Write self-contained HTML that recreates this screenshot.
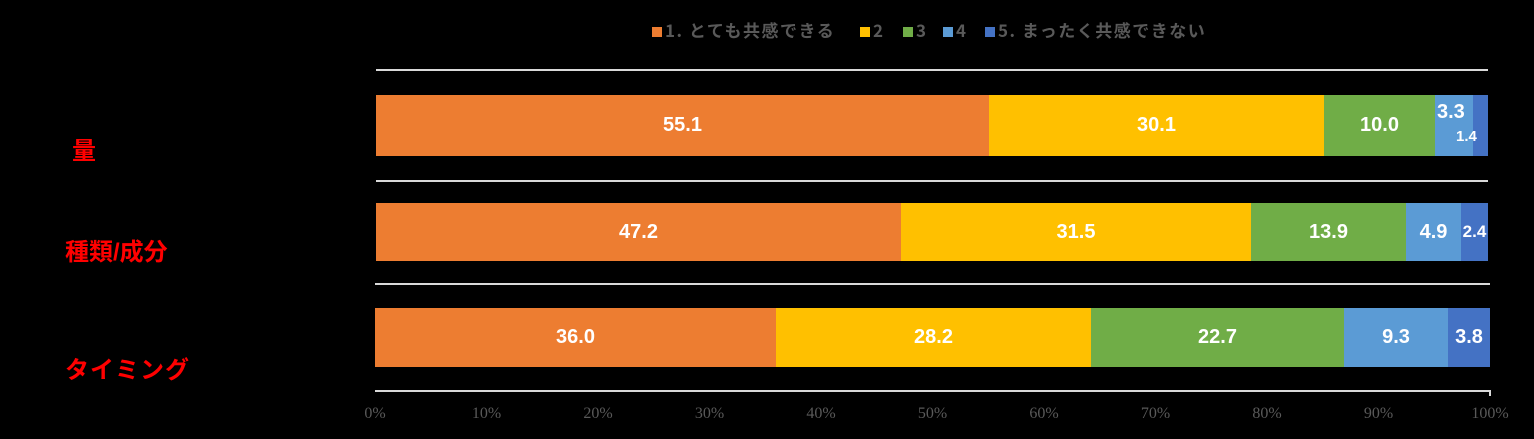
<!DOCTYPE html><html><head><meta charset="utf-8"><style>
body{margin:0;background:#000;width:1534px;height:439px;position:relative;overflow:hidden;font-family:"Liberation Sans","Noto Sans CJK JP",sans-serif}
.a{position:absolute}
.s{position:absolute;color:#fff;font-weight:bold;font-size:20px;display:flex;align-items:center;justify-content:center}
.l{position:absolute;color:#f00;font-weight:bold;font-size:24px;white-space:nowrap}
.hl{position:absolute;height:2px;background:#d9d9d9}
.t{position:absolute;top:405px;color:#595959;font-family:"Liberation Serif",serif;font-size:16px;width:70px;margin-left:-35px;text-align:center}
.lg{position:absolute;top:19px;height:22px;line-height:22px;color:#595959;font-size:17px;font-weight:bold;white-space:nowrap;letter-spacing:1.5px;font-family:"Noto Sans CJK JP",sans-serif}
.lg i{display:inline-block;width:10px;height:10px;margin-right:3px;vertical-align:0px}
</style></head><body>
<div class="lg" style="left:652px"><i style="background:#ED7D31"></i>1. とても共感できる</div>
<div class="lg" style="left:860px"><i style="background:#FFC000"></i>2</div>
<div class="lg" style="left:903px"><i style="background:#70AD47"></i>3</div>
<div class="lg" style="left:943px"><i style="background:#5B9BD5"></i>4</div>
<div class="lg" style="left:985px"><i style="background:#4472C4"></i>5. まったく共感できない</div>

<div class="hl" style="left:376px;width:1112px;top:69px"></div>
<div class="hl" style="left:376px;width:1112px;top:180px"></div>
<div class="hl" style="left:375px;width:1115px;top:283px"></div>
<div class="hl" style="left:375px;width:1115px;top:390px"></div>
<div class="a" style="left:1489px;top:390px;width:2px;height:6px;background:#d9d9d9"></div>

<div class="s" style="left:376px;width:613px;top:95px;height:61px;background:#ED7D31">55.1</div>
<div class="s" style="left:989px;width:335px;top:95px;height:61px;background:#FFC000">30.1</div>
<div class="s" style="left:1324px;width:111px;top:95px;height:61px;background:#70AD47">10.0</div>
<div class="a" style="left:1435px;width:38px;top:95px;height:61px;background:#5B9BD5"></div>
<div class="a" style="left:1473px;width:15px;top:95px;height:61px;background:#4472C4"></div>
<div class="a" style="left:1437px;top:101px;color:#fff;font-weight:bold;font-size:20px">3.3</div>
<div class="a" style="left:1456px;top:128px;color:#fff;font-weight:bold;font-size:15px">1.4</div>

<div class="s" style="left:376px;width:525px;top:203px;height:58px;background:#ED7D31">47.2</div>
<div class="s" style="left:901px;width:350px;top:203px;height:58px;background:#FFC000">31.5</div>
<div class="s" style="left:1251px;width:155px;top:203px;height:58px;background:#70AD47">13.9</div>
<div class="s" style="left:1406px;width:55px;top:203px;height:58px;background:#5B9BD5">4.9</div>
<div class="s" style="left:1461px;width:27px;top:203px;height:58px;background:#4472C4;font-size:17px">2.4</div>

<div class="s" style="left:375px;width:401px;top:308px;height:59px;background:#ED7D31">36.0</div>
<div class="s" style="left:776px;width:315px;top:308px;height:59px;background:#FFC000">28.2</div>
<div class="s" style="left:1091px;width:253px;top:308px;height:59px;background:#70AD47">22.7</div>
<div class="s" style="left:1344px;width:104px;top:308px;height:59px;background:#5B9BD5">9.3</div>
<div class="s" style="left:1448px;width:42px;top:308px;height:59px;background:#4472C4">3.8</div>

<div class="l" style="left:72px;top:131px">量</div>
<div class="l" style="left:65px;top:232px">種類/成分</div>
<div class="l" style="left:65px;top:350px;letter-spacing:1px">タイミング</div>

<div class="t" style="left:375px">0%</div>
<div class="t" style="left:486.5px">10%</div>
<div class="t" style="left:598px">20%</div>
<div class="t" style="left:709.5px">30%</div>
<div class="t" style="left:821px">40%</div>
<div class="t" style="left:932.5px">50%</div>
<div class="t" style="left:1044px">60%</div>
<div class="t" style="left:1155.5px">70%</div>
<div class="t" style="left:1267px">80%</div>
<div class="t" style="left:1378.5px">90%</div>
<div class="t" style="left:1490px">100%</div>
</body></html>
